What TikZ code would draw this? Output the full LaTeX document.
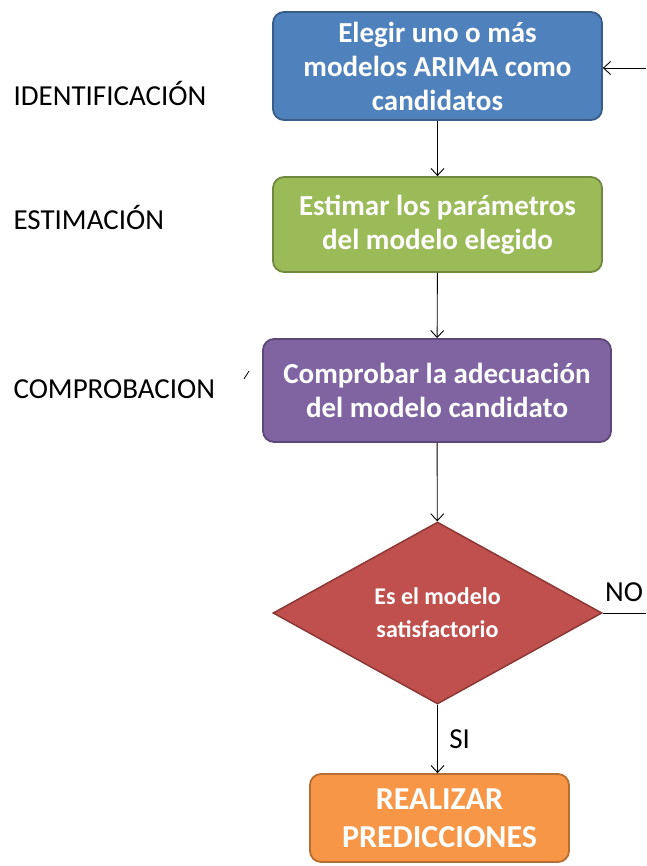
\documentclass[tikz,border=0pt]{standalone}
\usepackage{fontspec}
\setmainfont{Carlito}
\usetikzlibrary{shapes.geometric,arrows.meta}
\definecolor{azul}{HTML}{4F81BD}
\definecolor{azulb}{HTML}{385D8A}
\definecolor{verde}{HTML}{9BBB59}
\definecolor{verdeb}{HTML}{71893F}
\definecolor{morado}{HTML}{8064A2}
\definecolor{moradob}{HTML}{5C4776}
\definecolor{rojo}{HTML}{C0504D}
\definecolor{rojob}{HTML}{8C3836}
\definecolor{naranja}{HTML}{F79646}
\definecolor{naranjab}{HTML}{B66D31}
\begin{document}
\begin{tikzpicture}[x=1pt,y=-1pt,
    caja/.style={rectangle, rounded corners=11pt, line width=1.8pt, text=white,
      font=\fontsize{29}{34}\selectfont\bfseries, align=center, inner sep=0pt},
    etapa/.style={anchor=west, font=\fontsize{29}{32}\selectfont},
    flecha/.style={-{Straight Barb[length=7pt,width=13pt]}, line width=0.9pt}]
        \useasboundingbox (0,0) rectangle (646,866);
        \node[caja, fill=azul, draw=azulb, minimum width=329pt, minimum height=108pt] (elegir) at (437.5,66) {Elegir uno o más\\modelos ARIMA como\\candidatos};
        \node[caja, fill=verde, draw=verdeb, minimum width=329pt, minimum height=95pt] (estimar) at (437.5,224.5) {Estimar los parámetros\\del modelo elegido};
        \node[caja, fill=morado, draw=moradob, minimum width=348pt, minimum height=103pt] (comprobar) at (437,390.5) {Comprobar la adecuación\\del modelo candidato};
        \node[diamond, aspect=1.8, fill=rojo, draw=rojob, line width=1.5pt, text=white, inner sep=0pt,
          minimum width=329pt, minimum height=182pt, align=center,
          font=\fontsize{24}{33}\selectfont\bfseries] (satisf) at (437.5,613) {Es el modelo\\satisfactorio};
        \node[caja, fill=naranja, draw=naranjab, minimum width=259pt, minimum height=88pt,
          font=\fontsize{32}{38}\selectfont\bfseries] (predecir) at (439.5,818) {REALIZAR\\PREDICCIONES};
        \node[etapa] (ident) at (10,93) {IDENTIFICACIÓN};
        \node[etapa] (estim) at (10,217) {ESTIMACIÓN};
        \node[etapa] (compr) at (10,389) {COMPROBACION};
        \draw[line width=0.8pt] (244,379) -- (249,371);
        \coordinate (entrada) at (646,68);
        \coordinate (salida) at (646,613);
        \draw[flecha] (elegir) -- (estimar);
        \draw[flecha] (estimar) -- (comprobar);
        \draw[flecha] (comprobar) -- (satisf);
        \draw[flecha] (satisf.south) -- node[right, font=\fontsize{29}{32}\selectfont, xshift=8pt]{SI} (predecir.north -| satisf.south);
        \draw[line width=0.9pt] (satisf.east) -- (salida);
        \node[font=\fontsize{29}{32}\selectfont] (no) at (624,592) {NO};
        \draw[flecha] (entrada) -- (elegir.east |- entrada);
\end{tikzpicture}
\end{document}
